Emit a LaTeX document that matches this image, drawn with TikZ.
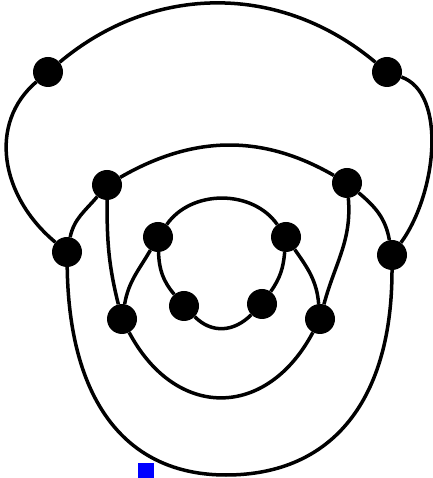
\documentclass[tikz,border=0pt]{standalone}
\begin{document}
\begin{tikzpicture}[x=1pt,y=1pt,
  vtx/.style={circle,fill=black,inner sep=0pt,minimum size=30pt},
  edge/.style={line width=3.5pt}]
\useasboundingbox (0,0) rectangle (432,478);
% vertices
\node[vtx] (A) at (48,406) {};
\node[vtx] (B) at (387,406) {};
\node[vtx] (C) at (107,293) {};
\node[vtx] (D) at (347,295) {};
\node[vtx] (E) at (67,226) {};
\node[vtx] (F) at (392,223) {};
\node[vtx] (G) at (158,241) {};
\node[vtx] (H) at (286,241) {};
\node[vtx] (I) at (122,159) {};
\node[vtx] (J) at (320,159) {};
\node[vtx] (K) at (184,172) {};
\node[vtx] (L) at (262,174) {};
\coordinate (M) at (226,3);
% edges
\draw[edge] (A) to[out=40,in=140] (B);
\draw[edge] (A) .. controls (-12,355) and (0,282) .. (E);
\draw[edge] (B) .. controls (447,385) and (437,285) .. (F);
\draw[edge] (C) to[out=30,in=150] (D);
\draw[edge] (E) to[out=78,in=230] (C);
\draw[edge] (D) to[out=-40,in=100] (F);
\draw[edge] (E) .. controls (69,81) and (123,3) .. (M) .. controls (334,3) and (392,80) .. (F);
\draw[edge] (C) to[out=-90,in=104] (I);
\draw[edge] (D) to[out=-85,in=75] (J);
\draw[edge] (G) to[out=55,in=125] (H);
\draw[edge] (G) to[out=-120,in=80] (I);
\draw[edge] (G) to[out=-88,in=130] (K);
\draw[edge] (H) to[out=-95,in=55] (L);
\draw[edge] (H) to[out=-55,in=95] (J);
\draw[edge] (K) to[out=-45,in=-135,looseness=1.1] (L);
\draw[edge] (I) to[out=-62,in=-118,looseness=1.38] (J);
% marker
\node[fill=blue,inner sep=0pt,minimum width=16pt,minimum height=15pt] (sq) at (146,7.5) {};
\end{tikzpicture}
\end{document}
